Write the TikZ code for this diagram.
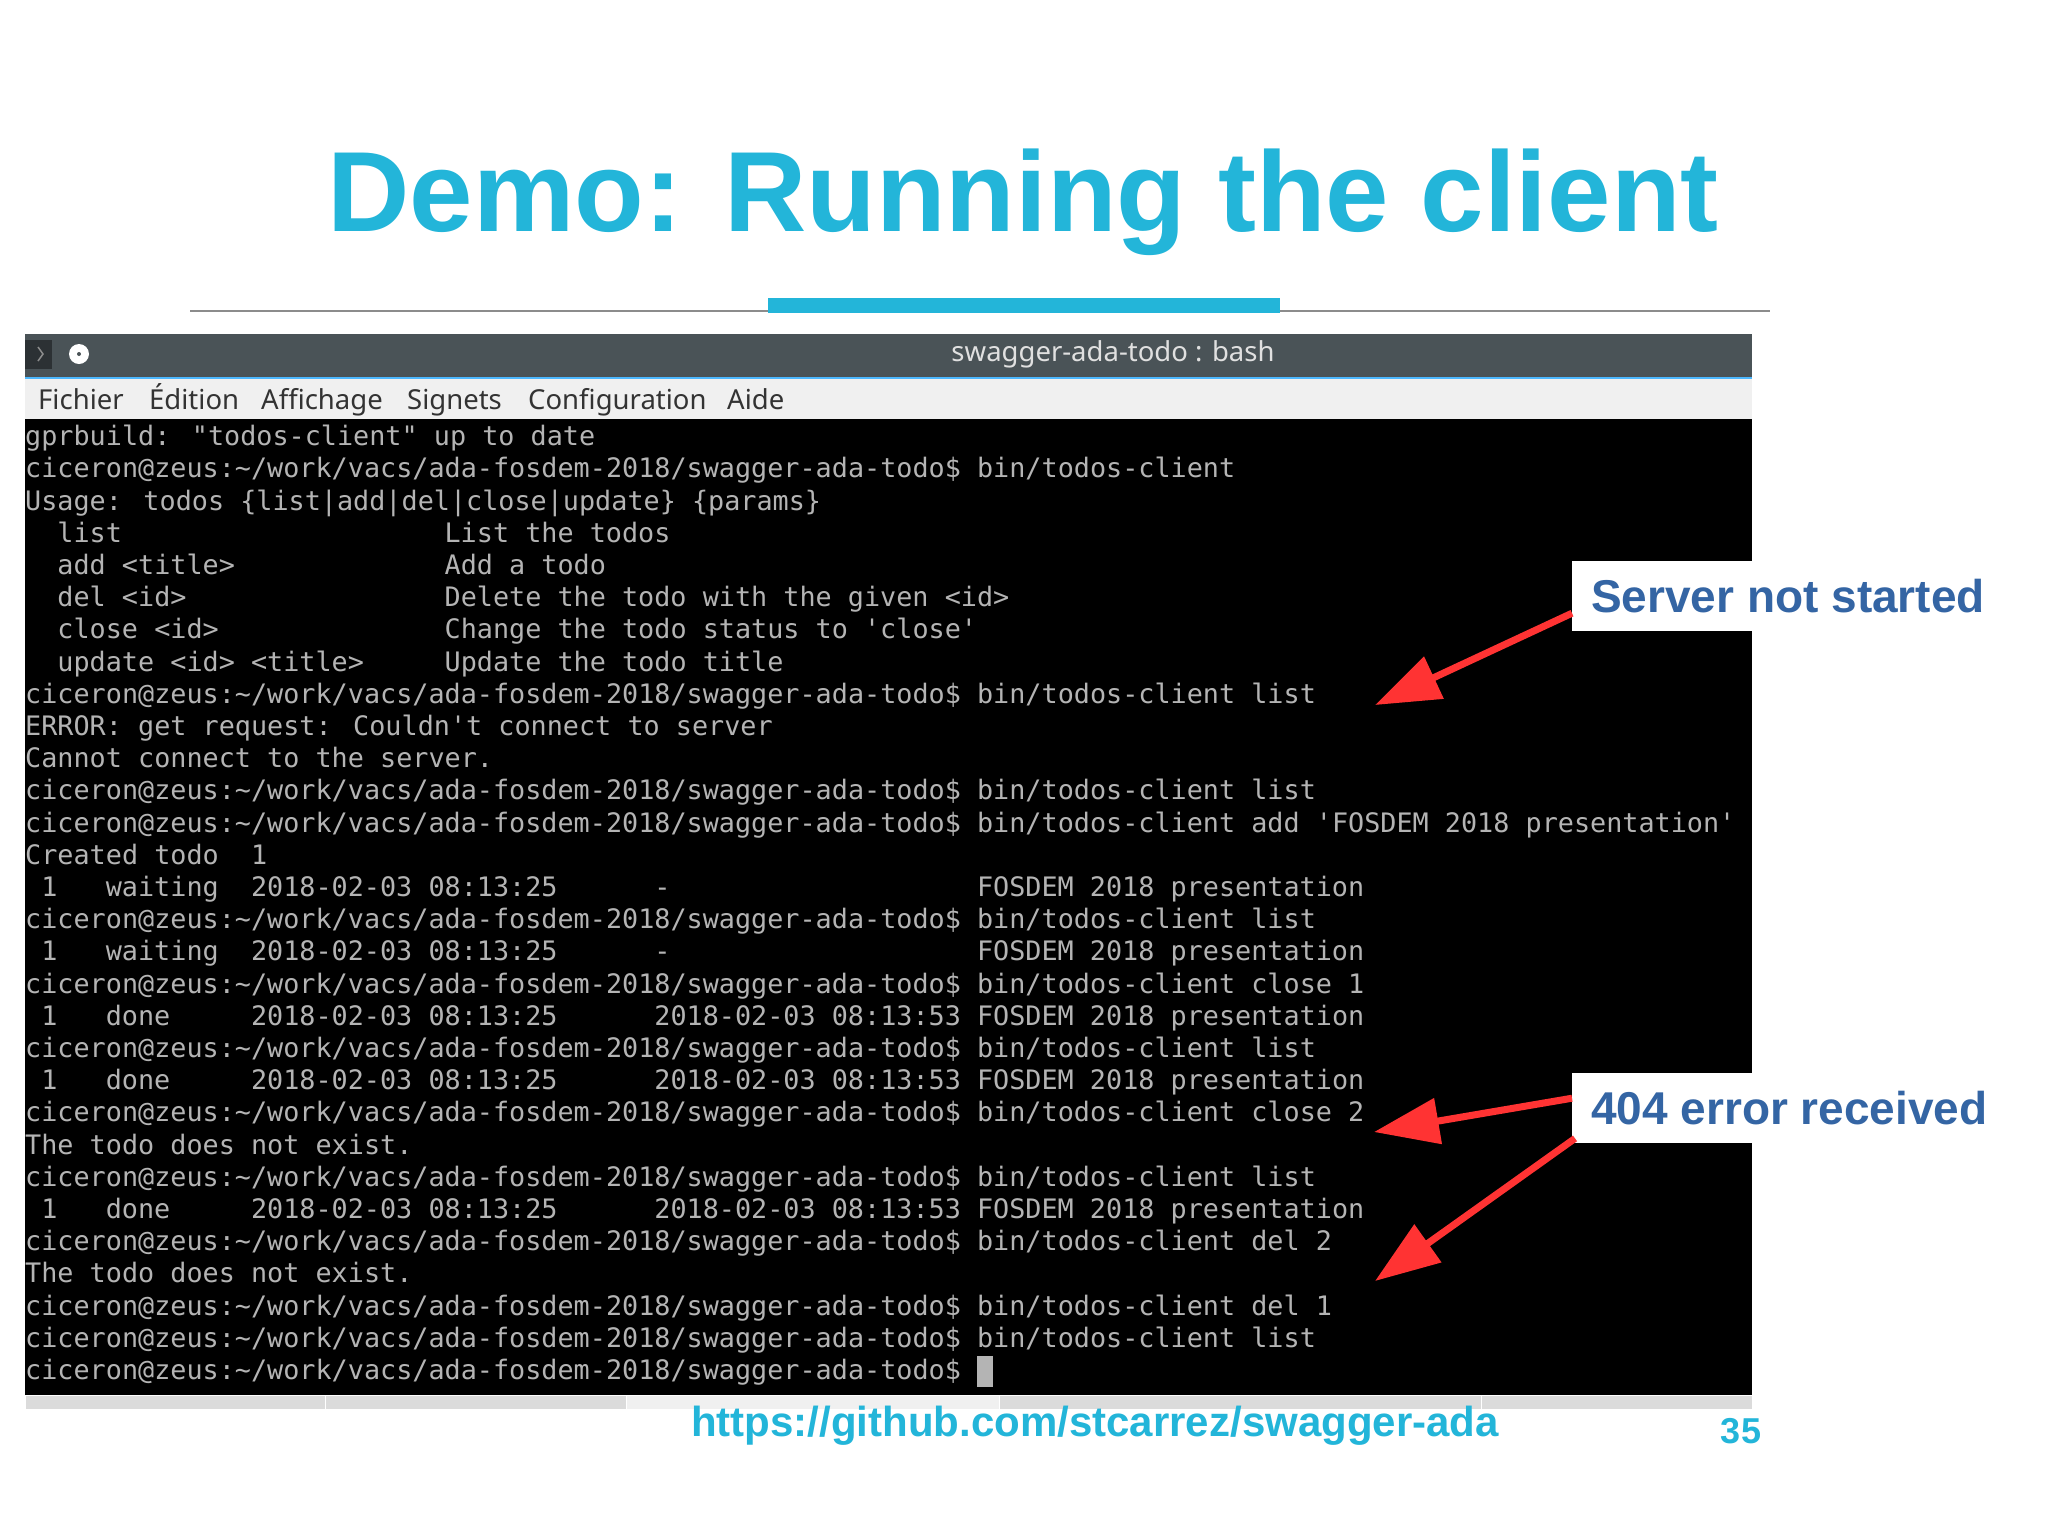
\documentclass[tikz,border=0pt]{standalone}
\usepackage{fontspec}
\setmainfont{Liberation Sans}
\newfontfamily\termfont{DejaVu Sans Mono}
\newfontfamily\guifont{Noto Sans}
\usetikzlibrary{arrows.meta}

\definecolor{slidecyan}{HTML}{23B5D9}
\definecolor{calloutblue}{HTML}{3465A4}
\definecolor{arrowred}{HTML}{FF3333}
\definecolor{termgrey}{HTML}{B4B4B4}
\definecolor{barslate}{HTML}{4A5357}

\newcommand{\tprompt}{ciceron@zeus:\textasciitilde/work/vacs/ada-fosdem-2018/swagger-ada-todo\$ }
\newcommand{\tsp}[1]{\hspace*{#1\dimexpr 16.13pt\relax}}

\tikzset{
    termline/.style={anchor=base west, inner sep=0pt, text=termgrey, font=\termfont\fontsize{26.8}{32}\selectfont},
    menuitem/.style={anchor=base west, inner sep=0pt, text=black!80, font=\guifont\fontsize{27.5}{32}\selectfont},
    callout/.style={anchor=north west, fill=white, inner xsep=19pt, inner ysep=0pt, minimum height=70pt, text=calloutblue, font=\bfseries\fontsize{46}{54}\selectfont},
    redarrow/.style={draw=arrowred, line width=7pt, -{Triangle[length=65pt, width=45pt]}},
    tabcell/.style={draw=white, line width=1pt, fill=black!14},
}

\begin{document}
\begin{tikzpicture}[x=1pt, y=-1pt]
    \useasboundingbox[fill=white] (0,0) rectangle (2048,1535);

    % slide title
    \node[inner sep=0pt, anchor=base, text=slidecyan, font=\bfseries\fontsize{114}{130}\selectfont] (title) at (1023,231) {Demo: Running the client};
    \draw[black!45, line width=1.5pt] (190,311) -- (1770,311);
    \fill[slidecyan] (768,298) rectangle (1280,313);

    % terminal window
    \fill[barslate] (25,334) rectangle (1752,377);
    \fill[blue!40!cyan!70] (25,377) rectangle (1752,379);
    \fill[black!15!barslate!70!black] (25,340) rectangle (52,369);
    \draw[black!45, line width=1.5pt] (38,347) -- (43,354) -- (38,361);
    \fill[white] (79,354) circle (10);
    \fill[barslate] (79,354) circle (2);
    \node[inner sep=0pt, text=black!12, font=\guifont\fontsize{27.5}{32}\selectfont] (bartext) at (1113,354) {swagger-ada-todo : bash};

    \fill[black!6] (25,379) rectangle (1752,419);
    \node[menuitem] (fichier) at (38,409) {Fichier};
    \node[menuitem] (edition) at (149,409) {Édition};
    \node[menuitem] (affichage) at (261,409) {Affichage};
    \node[menuitem] (signets) at (407,409) {Signets};
    \node[menuitem] (config) at (528,409) {Configuration};
    \node[menuitem] (aide) at (727,409) {Aide};

    \fill[black] (25,419) rectangle (1752,1395);
    \foreach \rowtext [count=\row from 0] in {
        {gprbuild: "todos-client" up to date},
        {\tprompt bin/todos-client},
        {Usage: todos \{list|add|del|close|update\} \{params\}},
        {\tsp{2}list\tsp{20}List the todos},
        {\tsp{2}add <title>\tsp{13}Add a todo},
        {\tsp{2}del <id>\tsp{16}Delete the todo with the given <id>},
        {\tsp{2}close <id>\tsp{14}Change the todo status to 'close'},
        {\tsp{2}update <id> <title>\tsp{5}Update the todo title},
        {\tprompt bin/todos-client list},
        {ERROR: get request: Couldn't connect to server},
        {Cannot connect to the server.},
        {\tprompt bin/todos-client list},
        {\tprompt bin/todos-client add 'FOSDEM 2018 presentation'},
        {Created todo\tsp{2}1},
        {\tsp{1}1\tsp{3}waiting\tsp{2}2018-02-03 08:13:25\tsp{6}-\tsp{19}FOSDEM 2018 presentation},
        {\tprompt bin/todos-client list},
        {\tsp{1}1\tsp{3}waiting\tsp{2}2018-02-03 08:13:25\tsp{6}-\tsp{19}FOSDEM 2018 presentation},
        {\tprompt bin/todos-client close 1},
        {\tsp{1}1\tsp{3}done\tsp{5}2018-02-03 08:13:25\tsp{6}2018-02-03 08:13:53 FOSDEM 2018 presentation},
        {\tprompt bin/todos-client list},
        {\tsp{1}1\tsp{3}done\tsp{5}2018-02-03 08:13:25\tsp{6}2018-02-03 08:13:53 FOSDEM 2018 presentation},
        {\tprompt bin/todos-client close 2},
        {The todo does not exist.},
        {\tprompt bin/todos-client list},
        {\tsp{1}1\tsp{3}done\tsp{5}2018-02-03 08:13:25\tsp{6}2018-02-03 08:13:53 FOSDEM 2018 presentation},
        {\tprompt bin/todos-client del 2},
        {The todo does not exist.},
        {\tprompt bin/todos-client del 1},
        {\tprompt bin/todos-client list},
        {\tprompt}}
        \node[termline] (row\row) at (25,445.6+\row*32.2) {\rowtext};
    \fill[termgrey] (977,1356) rectangle (993,1387);

    % tab row below the terminal
    \fill[tabcell] (25,1395) rectangle (325,1409);
    \fill[tabcell] (325,1395) rectangle (626,1409);
    \fill[tabcell, fill=black!6] (626,1395) rectangle (999,1409);
    \fill[tabcell] (999,1395) rectangle (1481,1409);
    \fill[tabcell] (1481,1395) rectangle (1752,1409);

    % callouts
    \node[callout] (server) at (1572,561) {Server not started};
    \node[callout] (notfound) at (1572,1073) {404 error received};
    \coordinate (servertip) at (1375,705);
    \coordinate (closetip) at (1374,1132);
    \coordinate (deltip) at (1375,1281);
    \draw[redarrow] ([yshift=-17pt]server.west) -- (servertip);
    \draw[redarrow] ([yshift=10pt]notfound.west) -- (closetip);
    \draw[redarrow] ([xshift=3pt,yshift=5pt]notfound.south west) -- (deltip);

    % footer
    \node[inner sep=0pt, anchor=base, text=slidecyan, font=\bfseries\fontsize{42}{50}\selectfont] (url) at (1095,1436) {https://github.com/stcarrez/swagger-ada};
    \node[inner sep=0pt, anchor=base, text=slidecyan, font=\bfseries\fontsize{36}{42}\selectfont] (pagenum) at (1741,1443) {35};
\end{tikzpicture}
\end{document}
